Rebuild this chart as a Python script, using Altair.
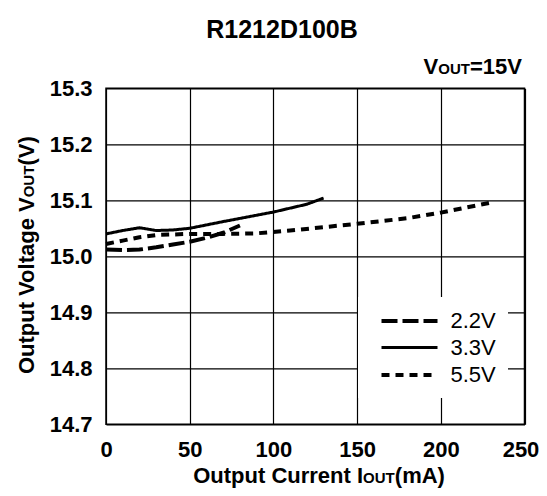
import altair as alt
import pandas as pd

# ---- data ----
series_names = ["2.2V", "3.3V", "5.5V"]

x_22 = [0, 10, 20, 30, 40, 50, 60, 70, 80]
v_22 = [15.012, 15.011, 15.012, 15.016, 15.021, 15.026, 15.033, 15.042, 15.055]

x_33 = [0, 10, 20, 30, 40, 50, 70, 100, 120, 130]
v_33 = [15.040, 15.046, 15.051, 15.046, 15.047, 15.050, 15.062, 15.079, 15.093, 15.104]

x_55 = [0, 10, 20, 30, 50, 70, 90, 110, 130, 150, 180, 200, 230]
v_55 = [15.022, 15.028, 15.034, 15.038, 15.040, 15.040, 15.041, 15.046, 15.052, 15.058, 15.068, 15.078, 15.096]

x_ticks = [0, 50, 100, 150, 200, 250]
y_ticks = [14.7, 14.8, 14.9, 15.0, 15.1, 15.2, 15.3]

FONT = "Liberation Sans"

rows = []
for name, xs, vs in [("2.2V", x_22, v_22), ("3.3V", x_33, v_33), ("5.5V", x_55, v_55)]:
    for i, (a, b) in enumerate(zip(xs, vs)):
        rows.append({"series": name, "iout": a, "vout": b, "order": i})
df = pd.DataFrame(rows)

lines = alt.Chart(df).mark_line(color="black", strokeCap="butt", strokeJoin="round").encode(
    x=alt.X("iout:Q", scale=alt.Scale(domain=[0, 250], nice=False, zero=False),
            axis=alt.Axis(values=x_ticks, title=None, labelFontSize=22, labelFont=FONT,
                          labelFontWeight="bold", labelColor="black", labelPadding=15,
                          labelOffset={"condition": {"test": "datum.value == 250", "value": -4},
                                       "value": 0},
                          ticks=False, tickSize=0, domain=False, grid=True,
                          gridColor="black", gridWidth=1.2, gridOpacity=1,
                          labelBaseline="top", labelFlush=False)),
    y=alt.Y("vout:Q", scale=alt.Scale(domain=[14.7, 15.3], nice=False, zero=False),
            axis=alt.Axis(values=y_ticks, format=".1f", title=None, labelFontSize=22,
                          labelFont=FONT, labelFontWeight="bold", labelColor="black",
                          labelPadding=14, ticks=False, tickSize=0, domain=False, grid=True,
                          gridColor="black", gridWidth=1.2, gridOpacity=1, labelFlush=False)),
    strokeDash=alt.StrokeDash("series:N",
        scale=alt.Scale(domain=series_names, range=[[16, 5], [1, 0], [8, 6]]),
        legend=alt.Legend(title=None, orient="none", legendX=252, legendY=208.7,
                          fillColor="white", padding=12, symbolType="M-2.8,0H2.8",
                          symbolSize=400, symbolStrokeWidth=4, symbolStrokeColor="black",
                          symbolOffset=27.5, labelOffset=29, labelFontSize=22, labelFont=FONT,
                          labelFontWeight="normal", labelColor="black", rowPadding=4)),
    strokeWidth=alt.StrokeWidth("series:N",
        scale=alt.Scale(type="ordinal", domain=series_names, range=[4, 3, 4]), legend=None),
    order="order:Q",
)

def txt(s, x, y, size, align="left", angle=0, weight="bold"):
    return alt.Chart(pd.DataFrame({"t": [s]})).mark_text(
        font=FONT, fontSize=size, fontWeight=weight, color="black", align=align,
        baseline="alphabetic", angle=angle
    ).encode(text="t:N", x=alt.value(x), y=alt.value(y))

# title
title = txt("R1212D100B", 176, -50, 25, align="center")

# VOUT=15V (right aligned)
v1 = txt("=15V", 416, -14, 22, align="right")
v2 = txt("OUT", 364, -14, 15, align="right")
v3 = txt("V", 332.3, -14, 22, align="right")

# x axis title: Output Current IOUT(mA)
XB = 395
xa = txt("Output Current I", 257.1, XB, 22, align="right")
xb = txt("OUT", 257.1, XB, 15, align="left")
xc = txt("(mA)", 288.8, XB, 22, align="left")

# y axis title: Output Voltage VOUT(V), rotated
ya = txt("Output Voltage V", -72, 109, 22, align="right", angle=270)
yb = txt("OUT", -72, 109, 15, align="left", angle=270)
yc = txt("(V)", -72, 77.3, 22, align="left", angle=270)

chart = alt.layer(lines, title, v1, v2, v3, xa, xb, xc, ya, yb, yc).properties(
    width=418.5, height=336,
    padding={"left": 98, "top": 80.3, "right": 14.5, "bottom": 63.7},
    autosize=alt.AutoSizeParams(type="none"),
    background="white",
).configure_view(stroke="black", strokeWidth=1.5)

chart.save("out.html", embed_options={"renderer": "svg", "actions": False})
